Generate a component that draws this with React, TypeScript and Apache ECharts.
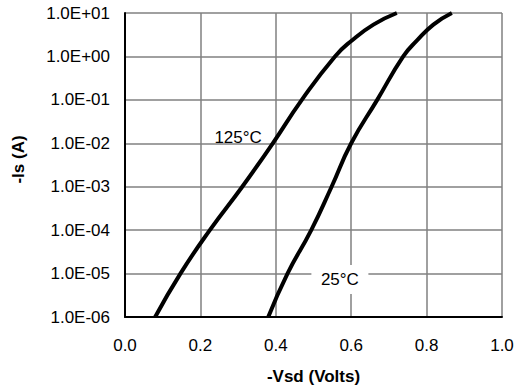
import React, { useEffect, useRef } from "react";
import * as echarts from "echarts";

const xTickLabels = ["0.0", "0.2", "0.4", "0.6", "0.8", "1.0"];
const yTickLabels = ["1.0E-06", "1.0E-05", "1.0E-04", "1.0E-03", "1.0E-02", "1.0E-01", "1.0E+00", "1.0E+01"];

const curve125: [number, number][] = [
  [0.08, 1e-6], [0.147, 1e-5], [0.225, 1e-4], [0.311, 1e-3], [0.392, 1e-2],
  [0.469, 1e-1], [0.557, 1], [0.601, 2.3], [0.659, 5.4], [0.721, 10],
];
const curve25: [number, number][] = [
  [0.38, 1e-6], [0.431, 1e-5], [0.494, 1e-4], [0.548, 1e-3], [0.6, 1e-2],
  [0.669, 1e-1], [0.738, 1], [0.774, 2.3], [0.818, 5.4], [0.867, 10],
];
const label125 = { text: "125°C", coord: [0.3, 1.33e-2] };
const label25 = { text: "25°C", coord: [0.57, 7.3e-6] };

const FONT = "'Liberation Sans', Arial, sans-serif";

export default function App() {
  const ref = useRef<HTMLDivElement>(null);
  useEffect(() => {
    if (!ref.current) return;
    const chart = echarts.init(ref.current, null, { renderer: "svg" });
    chart.setOption({
      animation: false,
      backgroundColor: "#fff",
      grid: { left: 125, right: 23, top: 13, bottom: 65 },
      xAxis: {
        type: "value",
        min: 0,
        max: 1,
        interval: 0.2,
        name: "-Vsd (Volts)",
        nameLocation: "middle",
        nameGap: 51,
        nameTextStyle: { fontFamily: FONT, fontSize: 17, fontWeight: "bold", color: "#000" },
        axisLine: { show: true, onZero: false, lineStyle: { color: "#000", width: 2 } },
        axisTick: { show: false },
        axisLabel: {
          margin: 20,
          fontFamily: FONT,
          fontSize: 17,
          color: "#000",
          formatter: (v: number) => xTickLabels[Math.round(v / 0.2)] ?? "",
        },
        splitLine: { show: true, lineStyle: { color: "#808080", width: 1.5 } },
      },
      yAxis: {
        type: "log",
        logBase: 10,
        min: 1e-6,
        max: 10,
        name: "-Is (A)",
        nameLocation: "middle",
        nameGap: 98,
        nameTextStyle: {
          fontFamily: FONT,
          fontSize: 17,
          fontWeight: "bold",
          color: "#000",
          padding: [0, 0, 0, 11],
        },
        axisLine: { show: true, onZero: false, lineStyle: { color: "#000", width: 2 } },
        axisTick: { show: false },
        axisLabel: {
          margin: 15,
          fontFamily: FONT,
          fontSize: 17,
          color: "#000",
          formatter: (v: number) => yTickLabels[Math.round(Math.log10(v)) + 6] ?? "",
        },
        splitLine: { show: true, lineStyle: { color: "#808080", width: 1.5 } },
      },
      series: [
        {
          type: "line",
          data: curve125,
          smooth: 0.5,
          symbol: "none",
          lineStyle: { color: "#000", width: 4 },
          z: 3,
          markPoint: {
            symbol: "rect",
            symbolSize: 0,
            label: { show: true, position: "inside", formatter: label125.text, fontFamily: FONT, fontSize: 17, color: "#000" },
            data: [{ coord: label125.coord }],
          },
        },
        {
          type: "line",
          data: curve25,
          smooth: 0.5,
          symbol: "none",
          lineStyle: { color: "#000", width: 4 },
          z: 3,
          markPoint: {
            symbol: "rect",
            symbolSize: [57, 29],
            itemStyle: { color: "#fff" },
            label: { show: true, position: "inside", formatter: label25.text, fontFamily: FONT, fontSize: 17, color: "#000" },
            data: [{ coord: label25.coord }],
          },
        },
      ],
    });
    return () => chart.dispose();
  }, []);
  return (
    <div
      ref={ref}
      style={{ position: "fixed", left: 0, top: 0, width: 525, height: 390 }}
    />
  );
}
